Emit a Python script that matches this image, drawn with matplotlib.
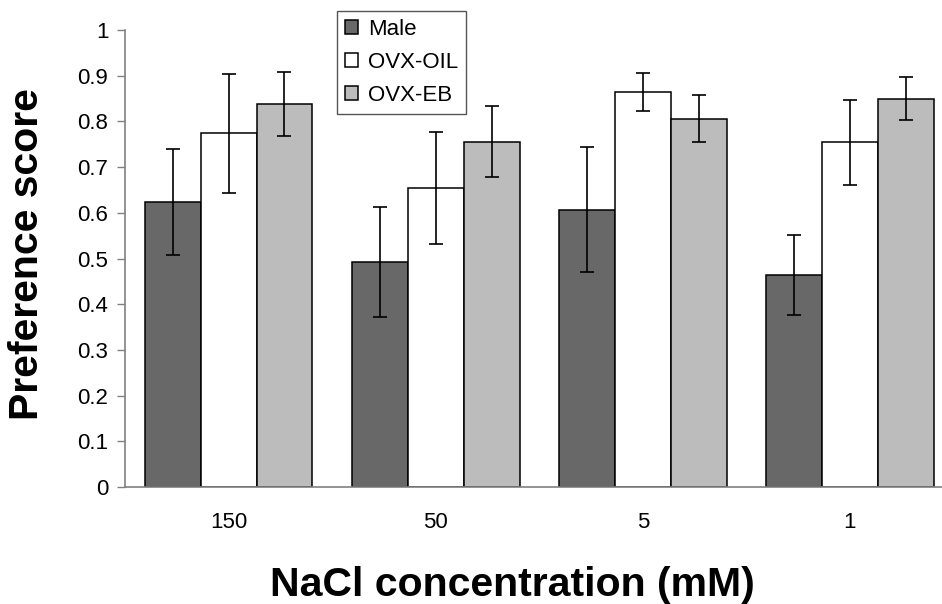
import matplotlib
matplotlib.use("Agg")
import matplotlib.pyplot as plt
import numpy as np

plt.rcParams['font.family'] = ['Liberation Sans', 'DejaVu Sans']

# data
concentrations = ['150', '50', '5', '1']
groups = ['Male', 'OVX-OIL', 'OVX-EB']
male = [0.623, 0.493, 0.607, 0.464]
male_err = [0.116, 0.120, 0.137, 0.087]
ovx_oil = [0.774, 0.654, 0.864, 0.754]
ovx_oil_err = [0.130, 0.123, 0.041, 0.093]
ovx_eb = [0.838, 0.756, 0.806, 0.850]
ovx_eb_err = [0.071, 0.078, 0.052, 0.047]

colors = ['#686868', '#ffffff', '#bcbcbc']
width = 0.27

fig = plt.figure(figsize=(9.42, 6.04), dpi=100)
ax = fig.add_axes([0.1327, 0.1937, 0.8795, 0.7566])

x = np.arange(len(concentrations))
series = [(male, male_err), (ovx_oil, ovx_oil_err), (ovx_eb, ovx_eb_err)]
for i, (vals, errs) in enumerate(series):
    ax.bar(x + (i - 1) * width, vals, width, yerr=errs, color=colors[i],
           edgecolor='black', linewidth=1.1, label=groups[i],
           error_kw=dict(ecolor='black', elinewidth=1.2, capsize=5, capthick=1.2))

ax.set_xlim(-0.5, 3.5)
ax.set_ylim(0, 1)
ax.set_yticks(np.arange(0, 1.01, 0.1))
ax.set_yticklabels(['0', '0.1', '0.2', '0.3', '0.4', '0.5', '0.6', '0.7', '0.8', '0.9', '1'])
ax.set_xticks(x)
ax.set_xticklabels(concentrations)

for side in ['top', 'right']:
    ax.spines[side].set_visible(False)
for side in ['left', 'bottom']:
    ax.spines[side].set_color('#808080')
    ax.spines[side].set_linewidth(1.2)

ax.tick_params(axis='y', direction='out', length=6, width=1, color='#808080',
               labelsize=16, pad=6)
ax.tick_params(axis='x', length=0, labelsize=16, pad=18)

ax.set_ylabel('Preference score', fontsize=29.5, fontweight='bold',
              ha='center', va='center')
ax.yaxis.set_label_coords(-0.118, 0.51)
ax.set_xlabel('NaCl concentration (mM)', fontsize=29.5, fontweight='bold',
              ha='center', va='baseline')
ax.xaxis.set_label_coords(0.468, -0.238)

leg = ax.legend(loc='upper left', bbox_to_anchor=(0.256, 1.042), fontsize=16,
                frameon=True, fancybox=False, framealpha=1, edgecolor='#555555',
                handlelength=0.6, handleheight=0.6, handletextpad=0.45,
                labelspacing=0.55, borderpad=0.35, borderaxespad=0)
leg.get_frame().set_linewidth(1.0)

fig.savefig('out.png', dpi=100)
